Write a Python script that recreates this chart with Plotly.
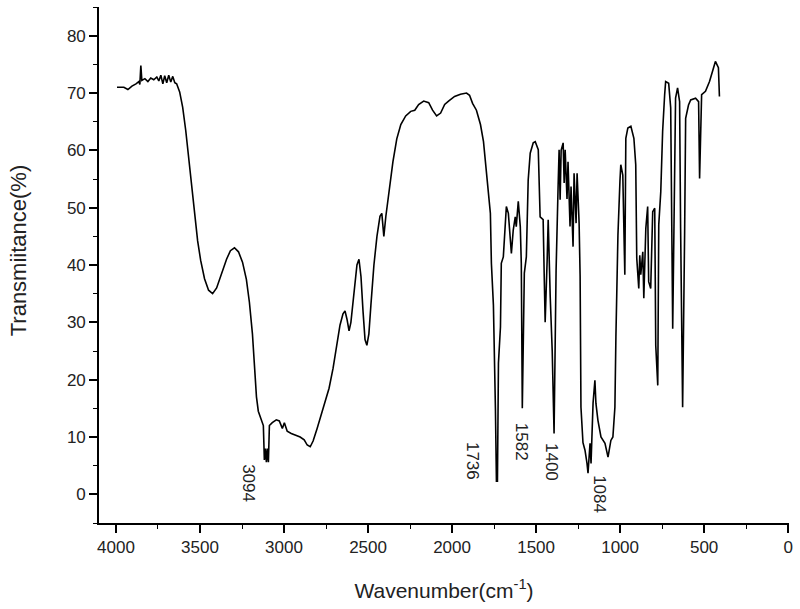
import plotly.graph_objects as go

# IR spectrum (wavenumber cm^-1, transmittance %)
wavenumber = [
    3994, 3953, 3929, 3905, 3881, 3864, 3858, 3852, 3846, 3828, 3810, 3793, 3775, 3757,
    3745, 3733, 3721, 3710, 3698, 3686, 3674, 3662, 3650, 3639, 3621, 3603, 3585, 3567,
    3550, 3532, 3514, 3496, 3473, 3449, 3425, 3401, 3372, 3342, 3319, 3295, 3271, 3247,
    3224, 3206, 3188, 3176, 3164, 3153, 3135, 3123, 3117, 3111, 3105, 3099, 3093, 3087,
    3070, 3046, 3028, 3010, 2998, 2981, 2957, 2927, 2904, 2880, 2862, 2844, 2827, 2803,
    2779, 2755, 2732, 2708, 2684, 2667, 2649, 2637, 2625, 2613, 2602, 2584, 2566, 2554,
    2542, 2530, 2518, 2507, 2495, 2483, 2465, 2447, 2429, 2418, 2406, 2394, 2376, 2352,
    2329, 2305, 2276, 2246, 2222, 2199, 2169, 2139, 2116, 2092, 2068, 2044, 2021, 1985,
    1950, 1914, 1896, 1878, 1855, 1831, 1813, 1796, 1784, 1772, 1766, 1754, 1742, 1736,
    1730, 1724, 1712, 1707, 1695, 1683, 1677, 1665, 1653, 1647, 1636, 1624, 1618, 1606,
    1594, 1588, 1582, 1570, 1558, 1547, 1535, 1517, 1505, 1487, 1476, 1458, 1452, 1446,
    1434, 1428, 1416, 1404, 1393, 1381, 1369, 1363, 1357, 1351, 1339, 1333, 1327, 1322,
    1316, 1310, 1298, 1292, 1280, 1274, 1262, 1256, 1244, 1238, 1233, 1221, 1209, 1197,
    1191, 1179, 1173, 1161, 1150, 1144, 1132, 1114, 1090, 1072, 1055, 1043, 1031, 1025,
    1013, 1001, 996, 984, 978, 972, 966, 954, 936, 918, 907, 901, 889, 883,
    877, 865, 859, 847, 836, 830, 818, 806, 794, 788, 776, 770, 758, 747,
    735, 729, 711, 699, 687, 676, 670, 658, 646, 640, 628, 616, 610, 593,
    580, 551, 533, 527, 521, 515, 492, 468, 450, 433, 415, 409,
]
transmittance = [
    71.0, 71.0, 70.6, 71.2, 71.6, 72.0, 71.5, 74.8, 72.2, 72.5, 72.0, 72.6, 72.3, 72.8,
    72.1, 73.1, 71.6, 73.0, 71.8, 73.1, 71.9, 72.9, 71.8, 71.6, 70.2, 67.5, 63.5, 58.5,
    53.5, 48.5, 44.2, 40.8, 37.6, 35.6, 35.0, 36.0, 38.5, 41.0, 42.5, 43.0, 42.3, 40.5,
    37.5, 33.5, 28.0, 22.0, 17.0, 14.5, 13.0, 12.0, 6.0, 8.0, 5.6, 8.0, 5.6, 12.0,
    12.5, 13.0, 12.8, 11.5, 12.5, 11.0, 10.6, 10.3, 10.0, 9.5, 8.6, 8.3, 9.3, 11.5,
    14.0, 16.5, 18.5, 22.0, 26.0, 29.5, 31.5, 32.0, 30.5, 28.5, 30.0, 35.0, 40.0, 41.0,
    38.0, 32.0, 27.0, 26.0, 28.0, 33.0, 40.0, 45.0, 48.5, 49.0, 45.0, 48.5, 53.0, 58.0,
    62.0, 64.5, 66.0, 66.8, 67.0, 68.0, 68.6, 68.3, 67.0, 66.0, 66.5, 68.0, 68.6, 69.4,
    69.8, 70.0, 69.6, 68.2, 67.0, 64.5, 61.5, 56.6, 52.0, 49.0, 40.3, 33.0, 15.0, 2.3,
    2.3, 22.9, 29.2, 40.3, 41.4, 47.9, 50.2, 49.0, 43.2, 42.0, 46.1, 48.4, 46.7, 51.1,
    46.7, 40.3, 15.0, 38.6, 41.4, 54.8, 59.5, 61.3, 61.5, 60.1, 48.4, 47.9, 38.6, 30.0,
    41.0, 47.9, 34.5, 25.0, 10.6, 39.1, 53.7, 60.1, 51.4, 60.0, 61.3, 54.3, 60.1, 56.6,
    51.5, 58.0, 46.7, 53.7, 43.2, 56.0, 47.3, 56.0, 47.3, 38.0, 15.2, 9.0, 7.7, 5.4,
    3.7, 8.9, 5.4, 15.9, 19.9, 15.9, 12.9, 10.0, 8.9, 6.5, 9.4, 10.0, 15.2, 27.5,
    45.2, 54.6, 57.5, 55.7, 44.7, 38.3, 62.1, 63.9, 64.2, 62.1, 57.5, 41.2, 35.9, 41.7,
    38.3, 42.3, 34.2, 46.4, 50.2, 37.1, 35.9, 49.3, 49.9, 26.0, 19.0, 47.0, 52.8, 63.3,
    69.7, 72.0, 71.7, 67.4, 28.9, 60.4, 69.1, 70.9, 68.5, 46.4, 15.2, 45.8, 65.6, 67.9,
    68.8, 69.1, 68.5, 55.1, 63.9, 69.7, 70.3, 72.0, 73.8, 75.5, 74.4, 69.4,
]

# Peak labels (text, label centre in data coordinates)
peak_labels = ["3094", "1736", "1582", "1400", "1084"]
peak_label_x = [3216, 1878, 1582, 1404, 1122]
peak_label_y = [2.0, 5.9, 9.1, 5.6, 0.1]

x_ticks = [4000, 3500, 3000, 2500, 2000, 1500, 1000, 500, 0]
y_ticks = [0, 10, 20, 30, 40, 50, 60, 70, 80]

FONT = "Arial, 'Liberation Sans', sans-serif"

fig = go.Figure()
fig.add_trace(go.Scatter(
    x=wavenumber, y=transmittance, mode="lines",
    line=dict(color="black", width=1.6), showlegend=False,
))

for t, xv, yv in zip(peak_labels, peak_label_x, peak_label_y):
    fig.add_annotation(x=xv, y=yv, text=t, textangle=90, showarrow=False,
                       xanchor="center", yanchor="middle",
                       font=dict(family=FONT, size=17, color="#222"))

fig.add_annotation(xref="paper", yref="paper", x=-0.117, y=0.529,
                   xanchor="center", yanchor="middle",
                   text="Transmiitance(%)", textangle=-90, showarrow=False,
                   font=dict(family=FONT, size=22, color="#222"))

fig.update_layout(
    width=800, height=609,
    margin=dict(l=99, r=8, t=7, b=86),
    paper_bgcolor="white", plot_bgcolor="white",
    font=dict(family=FONT, color="#222"),
)
fig.update_xaxes(
    range=[4101, -5], tickvals=x_ticks, ticktext=[str(v) for v in x_ticks],
    showline=True, linecolor="black", linewidth=1.6, showgrid=False, zeroline=False,
    ticks="outside", ticklen=8, tickwidth=1.6, tickcolor="black",
    tickfont=dict(family=FONT, size=17, color="#222"),
    minor=dict(ticks="outside", ticklen=4, tickwidth=1.4, tickcolor="black", dtick=250, tick0=0, showgrid=False),
    title=dict(text="Wavenumber(cm<sup>-1</sup>)", font=dict(family=FONT, size=21, color="#222"), standoff=27),
)
fig.update_yaxes(
    range=[-5, 85], tickvals=y_ticks, ticktext=[str(v) for v in y_ticks],
    showline=True, linecolor="black", linewidth=1.6, showgrid=False, zeroline=False,
    ticks="outside", ticklen=8, tickwidth=1.6, tickcolor="black",
    tickfont=dict(family=FONT, size=17, color="#222"),
    minor=dict(ticks="outside", ticklen=4, tickwidth=1.4, tickcolor="black", dtick=5, tick0=0, showgrid=False),
)

fig.write_html("out.html", config={"displayModeBar": False},
               post_script="document.body.style.margin='0';document.body.style.overflow='hidden';")
